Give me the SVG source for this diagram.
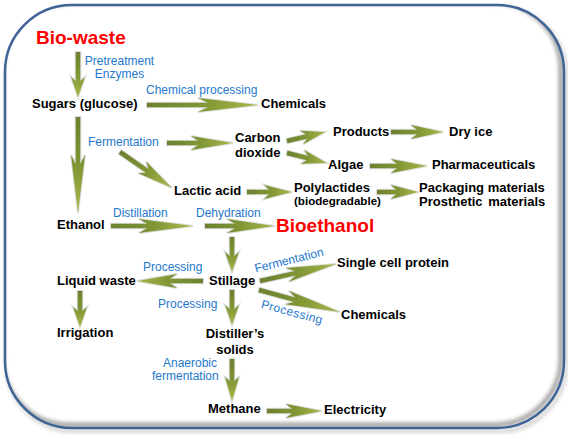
<svg xmlns="http://www.w3.org/2000/svg" width="568" height="435" viewBox="0 0 568 435">
<defs>
<linearGradient id="ag" x1="0" y1="0" x2="1" y2="0">
<stop offset="0" stop-color="#6c8030"/>
<stop offset="0.5" stop-color="#7f9634"/>
<stop offset="1" stop-color="#a8b84a"/>
</linearGradient>
<filter id="blur" x="-5%" y="-5%" width="110%" height="110%"><feGaussianBlur stdDeviation="2"/></filter>
<clipPath id="inside"><rect x="5" y="5" width="559" height="423" rx="67" ry="67"/></clipPath>
<style>
.ar{fill:url(#ag);stroke:#dedede;stroke-width:2;paint-order:stroke;stroke-linejoin:miter}
.n{font-family:"Liberation Sans",Arial,sans-serif;font-weight:bold;font-size:13px;fill:#000}
.big{font-family:"Liberation Sans",Arial,sans-serif;font-weight:bold;font-size:19px;fill:#ff0000}
.lb{font-family:"Liberation Sans",Arial,sans-serif;font-size:12px;fill:#2478cc}
.sm{font-size:11.6px}
.mid{text-anchor:middle}
</style>
</defs>
<g id="frame">
<rect x="7" y="8" width="559" height="423" rx="67" ry="67" fill="none" stroke="#9a9a9a" stroke-width="3" filter="url(#blur)" opacity="0.6"/>
<rect x="5" y="5" width="559" height="423" rx="67" ry="67" fill="#fff"/>
<g clip-path="url(#inside)">
<rect x="2" y="2" width="559" height="423" rx="67" ry="67" fill="none" stroke="#8c8c8c" stroke-width="4" filter="url(#blur)"/>
</g>
<rect x="5" y="5" width="559" height="423" rx="67" ry="67" fill="none" stroke="#3e6496" stroke-width="2.5"/>
</g>
<g id="connectors">
<path class="ar" transform="translate(78,52) rotate(90)" d="M0,-2.3 L29,-2.3 L25,-7 L45,0 L25,7 L29,2.3 L0,2.3Z"/>
<path class="ar" transform="translate(147,105)" d="M0,-2.3 L61,-2.3 L51,-7 L111,0 L51,7 L61,2.3 L0,2.3Z"/>
<path class="ar" transform="translate(78,117) rotate(90)" d="M0,-2.3 L47,-2.3 L38,-7 L96,0 L38,7 L47,2.3 L0,2.3Z"/>
<path class="ar" transform="translate(167,143)" d="M0,-2.3 L31,-2.3 L24,-7 L66,0 L24,7 L31,2.3 L0,2.3Z"/>
<path class="ar" transform="translate(120,152) rotate(34.7)" d="M0,-2.3 L33,-2.3 L27,-7 L63,0 L27,7 L33,2.3 L0,2.3Z"/>
<path class="ar" transform="translate(287,141) rotate(-13.3)" d="M0,-2.3 L20,-2.3 L15,-7 L39,0 L15,7 L20,2.3 L0,2.3Z"/>
<path class="ar" transform="translate(287,153) rotate(14)" d="M0,-2.3 L21,-2.3 L16,-7 L41,0 L16,7 L21,2.3 L0,2.3Z"/>
<path class="ar" transform="translate(391,132)" d="M0,-2.3 L26,-2.3 L20,-7 L52,0 L20,7 L26,2.3 L0,2.3Z"/>
<path class="ar" transform="translate(370,166)" d="M0,-2.3 L27,-2.3 L21,-7 L57,0 L21,7 L27,2.3 L0,2.3Z"/>
<path class="ar" transform="translate(247,192)" d="M0,-2.3 L22,-2.3 L17,-7 L45,0 L17,7 L22,2.3 L0,2.3Z"/>
<path class="ar" transform="translate(377,192)" d="M0,-2.3 L19,-2.3 L14,-7 L41,0 L14,7 L19,2.3 L0,2.3Z"/>
<path class="ar" transform="translate(111,226)" d="M0,-2.3 L36,-2.3 L28,-7 L82,0 L28,7 L36,2.3 L0,2.3Z"/>
<path class="ar" transform="translate(205,226)" d="M0,-2.3 L30,-2.3 L22,-7 L70,0 L22,7 L30,2.3 L0,2.3Z"/>
<path class="ar" transform="translate(232,237) rotate(90)" d="M0,-2.3 L19,-2.3 L15,-7 L35,0 L15,7 L19,2.3 L0,2.3Z"/>
<path class="ar" transform="translate(203,281) rotate(180)" d="M0,-2.3 L33,-2.3 L26,-7 L66,0 L26,7 L33,2.3 L0,2.3Z"/>
<path class="ar" transform="translate(80,291) rotate(90)" d="M0,-2.3 L20,-2.3 L16,-7 L36,0 L16,7 L20,2.3 L0,2.3Z"/>
<path class="ar" transform="translate(232,290) rotate(90)" d="M0,-2.3 L19,-2.3 L15,-7 L35,0 L15,7 L19,2.3 L0,2.3Z"/>
<path class="ar" transform="translate(232,359) rotate(90)" d="M0,-2.3 L22,-2.3 L18,-7 L42,0 L18,7 L22,2.3 L0,2.3Z"/>
<path class="ar" transform="translate(267,411)" d="M0,-2.3 L25,-2.3 L19,-7 L55,0 L19,7 L25,2.3 L0,2.3Z"/>
<path class="ar" transform="translate(260,281) rotate(-12.6)" d="M0,-2.3 L36,-2.3 L28,-7 L78,0 L28,7 L36,2.3 L0,2.3Z"/>
<path class="ar" transform="translate(259,290) rotate(15.2)" d="M0,-2.3 L37,-2.3 L29,-7 L84,0 L29,7 L37,2.3 L0,2.3Z"/>
</g>
<g id="edge-labels">
<text class="lb mid" x="119.5" y="65">Pretreatment</text>
<text class="lb mid" x="119.5" y="78">Enzymes</text>
<text class="lb" x="146" y="94">Chemical processing</text>
<text class="lb" x="88" y="146">Fermentation</text>
<text class="lb" x="113" y="217">Distillation</text>
<text class="lb" x="196" y="217">Dehydration</text>
<text class="lb" x="143" y="271">Processing</text>
<text class="lb" x="158" y="308">Processing</text>
<text class="lb mid" transform="translate(290,264) rotate(-14)">Fermentation</text>
<text class="lb mid" transform="translate(291,316) rotate(15)" letter-spacing="0.4">Processing</text>
<text class="lb" x="163" y="367">Anaerobic</text>
<text class="lb" x="152" y="380">fermentation</text>
</g>
<g id="bio-waste"><text class="big" x="36" y="44">Bio-waste</text></g>
<g id="sugars"><text class="n" x="32" y="108">Sugars (glucose)</text></g>
<g id="chemicals-1"><text class="n" x="261" y="108">Chemicals</text></g>
<g id="carbon-dioxide"><text class="n" x="235" y="142">Carbon</text><text class="n" x="235" y="156.5">dioxide</text></g>
<g id="products"><text class="n" x="333" y="136">Products</text></g>
<g id="dry-ice"><text class="n" x="449" y="136">Dry ice</text></g>
<g id="algae"><text class="n" x="328" y="169">Algae</text></g>
<g id="pharmaceuticals"><text class="n" x="432" y="169">Pharmaceuticals</text></g>
<g id="lactic-acid"><text class="n" x="174" y="195">Lactic acid</text></g>
<g id="polylactides"><text class="n" x="294" y="192">Polylactides</text><text class="n sm" x="294" y="205">(biodegradable)</text></g>
<g id="packaging"><text class="n" x="419" y="192">Packaging materials</text><text class="n" x="419" y="206" word-spacing="2">Prosthetic materials</text></g>
<g id="ethanol"><text class="n" x="57" y="229">Ethanol</text></g>
<g id="bioethanol"><text class="big" x="276" y="232">Bioethanol</text></g>
<g id="stillage"><text class="n" x="209" y="285">Stillage</text></g>
<g id="liquid-waste"><text class="n" x="57" y="285">Liquid waste</text></g>
<g id="irrigation"><text class="n" x="57" y="337">Irrigation</text></g>
<g id="single-cell-protein"><text class="n" x="337" y="267">Single cell protein</text></g>
<g id="chemicals-2"><text class="n" x="341" y="319">Chemicals</text></g>
<g id="distillers-solids"><text class="n mid" x="235" y="338">Distiller’s</text><text class="n mid" x="235" y="354">solids</text></g>
<g id="methane"><text class="n" x="208" y="413">Methane</text></g>
<g id="electricity"><text class="n" x="324" y="414">Electricity</text></g>
</svg>
